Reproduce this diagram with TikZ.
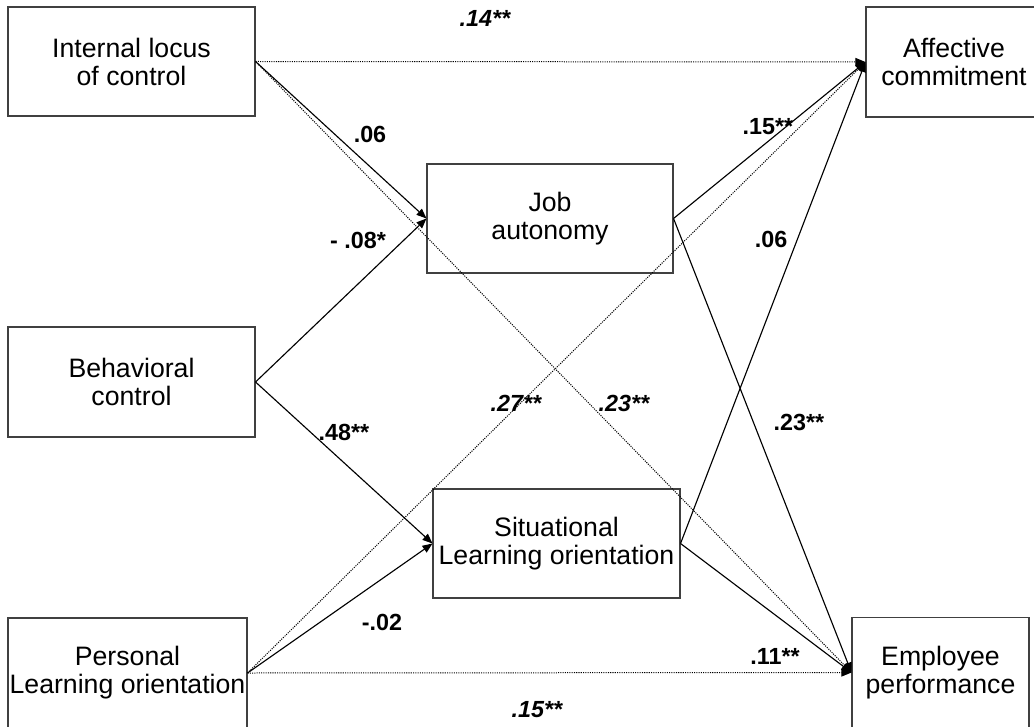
\documentclass[tikz,border=0pt]{standalone}
\usepackage{fontspec}
\setmainfont{Liberation Sans}
\usetikzlibrary{arrows.meta}

\begin{document}
\begin{tikzpicture}[x=0.75pt, y=-0.75pt,
    box/.style={draw=black!75, line width=0.8pt, rectangle, inner sep=0pt, align=center,
      font=\fontsize{20pt}{21pt}\selectfont},
    coef/.style={inner sep=0pt, font=\fontsize{17.5pt}{19pt}\selectfont\bfseries},
    path/.style={line width=0.85pt, -{Triangle[length=7.5pt, width=6pt]}},
    nsig/.style={line width=0.75pt, dash pattern=on 0.8pt off 0.9pt, -{Triangle[length=7.5pt, width=6pt]}}]
  \useasboundingbox (0,0) rectangle (1034,727);
  % Cajas
  \node[box, minimum width=185.25pt, minimum height=81.75pt] (ilc) at (131.5,61.5) {Internal locus\\of control};
  \node[box, minimum width=185.25pt, minimum height=82.5pt] (bc) at (131.5,382) {Behavioral\\control};
  \node[box, minimum width=179.25pt, minimum height=82.5pt] (plo) at (127.5,673) {Personal\\Learning orientation};
  \node[box, minimum width=184.5pt, minimum height=81.75pt] (ja) at (550,218.5) {Job\\autonomy};
  \node[box, minimum width=185.25pt, minimum height=81.75pt] (slo) at (556.5,543.5) {Situational\\Learning orientation};
  \node[box, minimum width=132pt, minimum height=82.5pt] (ac) at (954,62) {Affective\\commitment};
  \node[box, minimum width=132.75pt, minimum height=82.5pt] (ep) at (940.5,672.5) {Employee\\performance};

  % Flechas
  \draw[nsig] (ilc.east) -- (ac.west);
  \draw[nsig] (ilc.east) -- (ep.west);
  \draw[nsig] (plo.east) -- (ac.west);
  \draw[nsig] (plo.east) -- (ep.west);
  \draw[path] (ilc.east) -- (ja.west);
  \draw[path] (bc.east) -- (ja.west);
  \draw[path] (bc.east) -- (slo.west);
  \draw[path] (plo.east) -- (slo.west);
  \draw[path] (ja.east) -- (ac.west);
  \draw[path] (ja.east) -- (ep.west);
  \draw[path] (slo.east) -- (ac.west);
  \draw[path] (slo.east) -- (ep.west);

  % Coeficientes
  \node[coef] (k1) at (485,18) {\itshape .14**};
  \node[coef] (k2) at (370,134) {.06};
  \node[coef] (k3) at (768,127) {.15**};
  \node[coef] (k4) at (358,240) {- .08*};
  \node[coef] (k5) at (771,239) {.06};
  \node[coef] (k6) at (516,403) {\itshape .27**};
  \node[coef] (k7) at (624,403) {\itshape .23**};
  \node[coef] (k8) at (344,432) {.48**};
  \node[coef] (k9) at (799,422) {.23**};
  \node[coef] (k10) at (382,622) {-.02};
  \node[coef] (k11) at (775,656) {.11**};
  \node[coef] (k12) at (537,710) {\itshape .15**};
\end{tikzpicture}
\end{document}
